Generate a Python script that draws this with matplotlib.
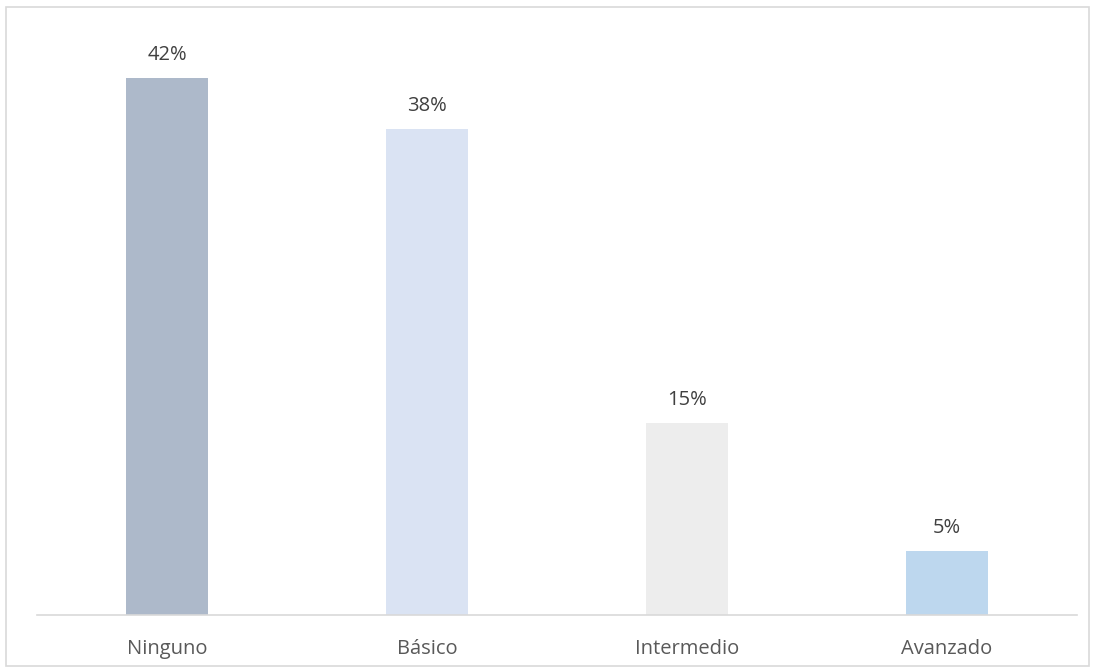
import matplotlib.pyplot as plt
from matplotlib.patches import Rectangle

# survey results: knowledge level
niveles = ['Ninguno', 'Básico', 'Intermedio', 'Avanzado']
porcentajes = [42, 38, 15, 5]
colores = ['#ADB9CA', '#DAE3F3', '#EDEDED', '#BDD7EE']

plt.rcParams['font.family'] = ['Open Sans', 'DejaVu Sans']

W, H = 1095, 672
fig = plt.figure(figsize=(W / 100, H / 100), dpi=100)

# light frame around the whole chart
fig.patches.append(Rectangle((6 / W, 6 / H), 1083 / W, 659 / H, transform=fig.transFigure,
                             fill=False, edgecolor='#D9D9D9', linewidth=1.2))

left, right, bottom, top = 37, 1077, 615, 40
ax = fig.add_axes([left / W, 1 - bottom / H, (right - left) / W, (bottom - top) / H])

x = range(len(niveles))
ax.bar(x, porcentajes, width=0.315, color=colores, zorder=2)
for xi, v in zip(x, porcentajes):
    ax.text(xi, v + 1.05, '%d%%' % v, ha='center', va='bottom', fontsize=14.5, color='#404040')

ax.set_xlim(-0.5, len(niveles) - 0.5)
ax.set_ylim(0, 45)
ax.set_xticks(list(x))
ax.set_xticklabels(niveles, fontsize=14.5, color='#595959')
ax.tick_params(axis='x', length=0, pad=17.5)
ax.set_yticks([])
for s in ['top', 'right', 'left']:
    ax.spines[s].set_visible(False)
ax.spines['bottom'].set_color('#D9D9D9')
ax.spines['bottom'].set_linewidth(1.2)

fig.savefig('out.png', dpi=100)
